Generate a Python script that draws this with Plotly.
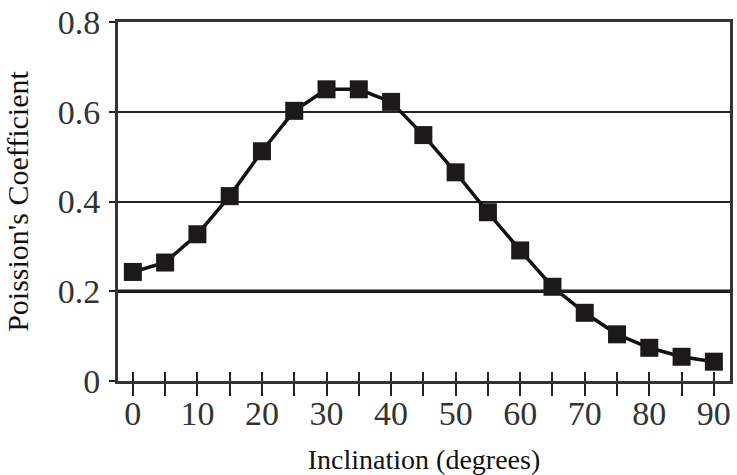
import plotly.graph_objects as go

inclination = [0, 5, 10, 15, 20, 25, 30, 35, 40, 45, 50, 55, 60, 65, 70, 75, 80, 85, 90]
poisson = [0.243, 0.264, 0.327, 0.412, 0.512, 0.602, 0.650, 0.650, 0.622, 0.548, 0.465, 0.376, 0.291, 0.210, 0.152, 0.104, 0.074, 0.054, 0.043]

x_tickvals = [0, 10, 20, 30, 40, 50, 60, 70, 80, 90]
x_minor = [0, 5, 10, 15, 20, 25, 30, 35, 40, 45, 50, 55, 60, 65, 70, 75, 80, 85, 90]
y_tickvals = [0, 0.2, 0.4, 0.6, 0.8]
y_ticktext = ["0", "0.2", "0.4", "0.6", "0.8"]

FONT = "Liberation Serif"

fig = go.Figure()
fig.add_trace(go.Scatter(
    x=inclination, y=poisson, mode="lines+markers",
    line=dict(color="#111111", width=3.5),
    marker=dict(symbol="square", size=18, color="#1c1a19"),
    showlegend=False, hoverinfo="x+y",
))
# invisible trace to carry the inner-tick overlay axis
fig.add_trace(go.Scatter(
    x=inclination, y=poisson, xaxis="x2", mode="markers",
    marker=dict(opacity=0), showlegend=False, hoverinfo="skip",
))

xrange = [-2.3, 92.5]
fig.update_layout(
    width=737, height=475,
    margin=dict(l=118, r=4, t=18, b=87),
    paper_bgcolor="white", plot_bgcolor="white",
    font=dict(family=FONT, color="#222222"),
    xaxis=dict(
        range=xrange, tickvals=x_minor,
        ticktext=[str(v) if v in x_tickvals else "" for v in x_minor],
        ticks="outside", ticklen=12, tickwidth=2, tickcolor="#222222",
        showline=True, linecolor="#333333", linewidth=2.5, mirror=True,
        showgrid=False, zeroline=False,
        tickfont=dict(family=FONT, size=34, color="#333333"),
        ticklabelstandoff=-12,
        title=dict(text="Inclination (degrees)", font=dict(family=FONT, size=28, color="#111111"), standoff=20),
    ),
    xaxis2=dict(
        range=xrange, overlaying="x", anchor="y", side="bottom",
        tickvals=x_minor, showticklabels=False,
        ticks="inside", ticklen=9, tickwidth=2, tickcolor="#222222",
        showline=False, showgrid=False, zeroline=False,
    ),
    yaxis=dict(
        range=[0, 0.8], tickvals=y_tickvals, ticktext=y_ticktext,
        ticks="outside", ticklen=6, tickwidth=2, tickcolor="#222222",
        showline=True, linecolor="#333333", linewidth=3, mirror=True,
        showgrid=True, gridcolor="#222222", gridwidth=2, zeroline=False,
        tickfont=dict(family=FONT, size=34, color="#333333"),
        ticklabelstandoff=2, ticklabeloverflow="allow",
        title=dict(text="Poission's Coefficient", font=dict(family=FONT, size=30, color="#111111"), standoff=21),
    ),
)
fig.add_hline(y=y_tickvals[1], line=dict(color="#111111", width=3.5), layer="below")

fig.write_html("out.html")
